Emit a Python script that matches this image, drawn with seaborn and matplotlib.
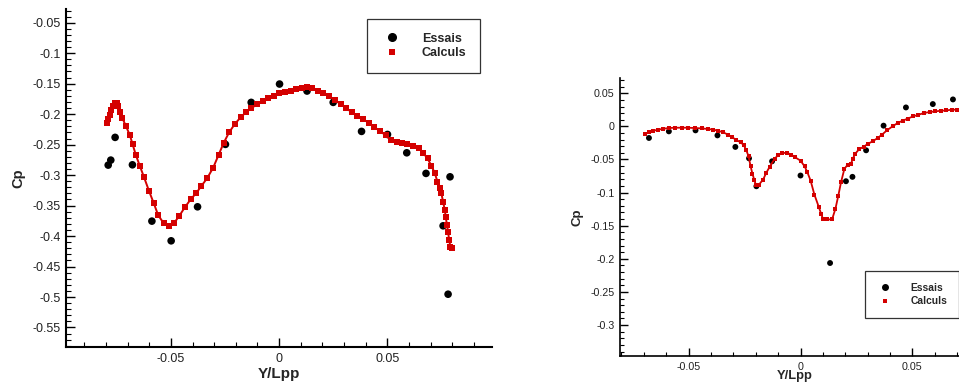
import matplotlib
matplotlib.use('Agg')
import matplotlib.pyplot as plt
import seaborn as sns
from matplotlib.lines import Line2D
from matplotlib.ticker import MultipleLocator, FuncFormatter

sns.set_style('ticks')
plt.rcParams['font.family'] = ['Liberation Sans', 'DejaVu Sans']

RED = '#d40000'

# ---------------- Left chart data ----------------
left_essais_x = [-0.0790, -0.0778, -0.0758, -0.0678, -0.0588, -0.0499, -0.0377, -0.0248,
                 -0.0129, 0.0002, 0.0129, 0.0250, 0.0381, 0.0501, 0.0590, 0.0679,
                 0.0758, 0.0781, 0.0790]
left_essais_cp = [-0.2836, -0.2754, -0.2381, -0.2831, -0.3755, -0.4078, -0.3520, -0.2496,
                  -0.1807, -0.1506, -0.1621, -0.1807, -0.2283, -0.2333, -0.2634, -0.2972,
                  -0.3832, -0.4954, -0.3028]

left_calc_x = [-0.0795, -0.0790, -0.0782, -0.0775, -0.0767, -0.0759, -0.0751, -0.0744,
               -0.0736, -0.0724, -0.0708, -0.0690, -0.0677, -0.0662, -0.0644, -0.0624,
               -0.0601, -0.0579, -0.0559, -0.0533, -0.0508, -0.0487, -0.0462, -0.0436,
               -0.0409, -0.0382, -0.0360, -0.0333, -0.0305, -0.0280, -0.0256, -0.0231,
               -0.0205, -0.0178, -0.0154, -0.0128, -0.0102, -0.0074, -0.0051, -0.0024,
               0.0000, 0.0026, 0.0053, 0.0080, 0.0104, 0.0127, 0.0150, 0.0180,
               0.0203, 0.0231, 0.0257, 0.0284, 0.0311, 0.0337, 0.0362, 0.0388,
               0.0415, 0.0439, 0.0465, 0.0492, 0.0515, 0.0543, 0.0568, 0.0593,
               0.0619, 0.0646, 0.0665, 0.0686, 0.0704, 0.0720, 0.0732, 0.0743,
               0.0750, 0.0758, 0.0766, 0.0770, 0.0776, 0.0781, 0.0786, 0.0792, 0.0797]
left_calc_cp = [-0.2141, -0.2086, -0.2015, -0.1933, -0.1867, -0.1813, -0.1813, -0.1867,
                -0.1961, -0.2069, -0.2196, -0.2343, -0.2496, -0.2672, -0.2847, -0.3038,
                -0.3263, -0.3465, -0.3657, -0.3793, -0.3837, -0.3793, -0.3673, -0.3530,
                -0.3399, -0.3291, -0.3181, -0.3054, -0.2880, -0.2672, -0.2470, -0.2299,
                -0.2163, -0.2053, -0.1971, -0.1905, -0.1835, -0.1780, -0.1741, -0.1698,
                -0.1659, -0.1642, -0.1616, -0.1588, -0.1567, -0.1551, -0.1567, -0.1616,
                -0.1649, -0.1703, -0.1769, -0.1835, -0.1905, -0.1971, -0.2032, -0.2086,
                -0.2141, -0.2207, -0.2278, -0.2343, -0.2425, -0.2463, -0.2480, -0.2496,
                -0.2519, -0.2562, -0.2634, -0.2726, -0.2847, -0.2972, -0.3110, -0.3218,
                -0.3300, -0.3438, -0.3575, -0.3685, -0.3821, -0.3931, -0.4067, -0.4177, -0.4203]

# ---------------- Right chart data ----------------
right_essais_x = [-0.0677, -0.0588, -0.0469, -0.0371, -0.0291, -0.0230, -0.0197, -0.0127,
                  0.0000, 0.0132, 0.0203, 0.0232, 0.0293, 0.0371, 0.0471, 0.0591, 0.0681]
right_essais_cp = [-0.0175, -0.0075, -0.0060, -0.0136, -0.0310, -0.0482, -0.0904, -0.0527,
                   -0.0742, -0.2063, -0.0828, -0.0762, -0.0361, 0.0011, 0.0286, 0.0337, 0.0407]

right_calc_x = [-0.0695, -0.0677, -0.0657, -0.0635, -0.0613, -0.0588, -0.0561, -0.0531,
                -0.0501, -0.0472, -0.0442, -0.0412, -0.0390, -0.0368, -0.0346, -0.0323,
                -0.0305, -0.0286, -0.0268, -0.0254, -0.0242, -0.0232, -0.0223, -0.0215,
                -0.0206, -0.0200, -0.0187, -0.0167, -0.0153, -0.0138, -0.0116, -0.0101,
                -0.0081, -0.0059, -0.0041, -0.0024, 0.0000, 0.0018, 0.0030, 0.0045,
                0.0062, 0.0082, 0.0092, 0.0100, 0.0119, 0.0141, 0.0156, 0.0169,
                0.0181, 0.0196, 0.0211, 0.0226, 0.0233, 0.0245, 0.0263, 0.0282,
                0.0300, 0.0322, 0.0345, 0.0364, 0.0386, 0.0411, 0.0434, 0.0456,
                0.0478, 0.0503, 0.0527, 0.0552, 0.0577, 0.0601, 0.0626, 0.0652,
                0.0675, 0.0701]
right_calc_cp = [-0.0110, -0.0090, -0.0065, -0.0050, -0.0035, -0.0025, -0.0020, -0.0020,
                 -0.0020, -0.0025, -0.0030, -0.0040, -0.0050, -0.0065, -0.0090, -0.0125,
                 -0.0166, -0.0205, -0.0241, -0.0280, -0.0361, -0.0452, -0.0602, -0.0712,
                 -0.0813, -0.0878, -0.0885, -0.0803, -0.0702, -0.0611, -0.0491, -0.0437,
                 -0.0401, -0.0401, -0.0426, -0.0467, -0.0517, -0.0602, -0.0687, -0.0818,
                 -0.1029, -0.1220, -0.1319, -0.1395, -0.1405, -0.1405, -0.1244, -0.1044,
                 -0.0843, -0.0642, -0.0577, -0.0562, -0.0491, -0.0411, -0.0340, -0.0310,
                 -0.0265, -0.0226, -0.0175, -0.0125, -0.0060, 0.0000, 0.0051, 0.0086,
                 0.0116, 0.0151, 0.0176, 0.0202, 0.0217, 0.0226, 0.0236, 0.0241,
                 0.0252, 0.0252]

legend_labels = ['Essais', 'Calculs']
x_label = 'Y/Lpp'
y_label = 'Cp'


def fmt(v, pos):
    v = round(v, 4)
    if abs(v) < 1e-9:
        return '0'
    return f'{v:g}'


def style_axis(ax, tick_fs, spine_lw, major_len, minor_len):
    sns.despine(ax=ax)
    for s in ('left', 'bottom'):
        ax.spines[s].set_linewidth(spine_lw)
        ax.spines[s].set_color('black')
    ax.xaxis.set_major_locator(MultipleLocator(0.05))
    ax.xaxis.set_minor_locator(MultipleLocator(0.01))
    ax.yaxis.set_major_locator(MultipleLocator(0.05))
    ax.yaxis.set_minor_locator(MultipleLocator(0.01))
    ax.xaxis.set_major_formatter(FuncFormatter(fmt))
    ax.yaxis.set_major_formatter(FuncFormatter(fmt))
    ax.tick_params(which='major', direction='in', length=major_len, width=1.0,
                   labelsize=tick_fs, color='black', labelcolor='#222222', pad=4)
    ax.tick_params(which='minor', direction='in', length=minor_len, width=0.8, color='black')
    ax.grid(False)
    ax.set_facecolor('white')


fig = plt.figure(figsize=(9.59, 3.85), dpi=100)
fig.patch.set_facecolor('white')

# ---------------- Left axes ----------------
axL = fig.add_axes([66 / 959, 1 - 347 / 385, (492 - 66) / 959, (347 - 9) / 385])
sns.scatterplot(x=left_essais_x, y=left_essais_cp, ax=axL, color='black', marker='o',
                s=30, edgecolor='none', legend=False, zorder=2)
sns.lineplot(x=left_calc_x, y=left_calc_cp, ax=axL, color=RED, lw=1.4, marker='s',
             markersize=4.4, markeredgewidth=0, markerfacecolor=RED, sort=False,
             estimator=None, legend=False, zorder=3)
axL.set_xlim(-0.0985, 0.0984)
axL.set_ylim(-0.582, -0.0275)
style_axis(axL, 9, 1.5, 6.5, 3.5)
axL.set_xlabel(x_label, fontsize=11, fontweight='bold', labelpad=2)
axL.set_ylabel(y_label, fontsize=10.5, fontweight='bold', labelpad=5)

handlesL = [Line2D([], [], ls='', marker='o', color='black', markersize=5.5),
            Line2D([], [], ls='', marker='s', color=RED, markersize=4.4, markeredgewidth=0)]
legL = fig.legend(handlesL, legend_labels, loc='upper left',
                  bbox_to_anchor=(366.7 / 959, 1 - 19 / 385), bbox_transform=fig.transFigure,
                  prop={'size': 9, 'weight': 'bold'}, frameon=True, fancybox=False,
                  borderpad=1.1, handlelength=1.8, handletextpad=1.5, labelspacing=0.2,
                  borderaxespad=0)
legL.get_frame().set_edgecolor('black')
legL.get_frame().set_linewidth(0.9)

# ---------------- Right axes ----------------
axR = fig.add_axes([620.3 / 959, 1 - 356 / 385, (959 - 620.3) / 959, (356 - 78.3) / 385])
sns.scatterplot(x=right_essais_x, y=right_essais_cp, ax=axR, color='black', marker='o',
                s=18, edgecolor='none', legend=False, zorder=2)
sns.lineplot(x=right_calc_x, y=right_calc_cp, ax=axR, color=RED, lw=1.3, marker='s',
             markersize=3.3, markeredgewidth=0, markerfacecolor=RED, sort=False,
             estimator=None, legend=False, zorder=3)
axR.set_xlim(-0.0805, 0.0708)
axR.set_ylim(-0.3467, 0.0726)
style_axis(axR, 7.7, 1.2, 5.5, 3.0)
axR.set_xlabel(x_label, fontsize=9.3, fontweight='bold', labelpad=2)
axR.xaxis.set_label_coords(0.516, -0.05)
axR.set_ylabel(y_label, fontsize=9.5, fontweight='bold', labelpad=5)

handlesR = [Line2D([], [], ls='', marker='o', color='black', markersize=4.0),
            Line2D([], [], ls='', marker='s', color=RED, markersize=3.3, markeredgewidth=0)]
legR = fig.legend(handlesR, legend_labels, loc='upper left',
                  bbox_to_anchor=(865 / 959, 1 - 270.7 / 385), bbox_transform=fig.transFigure,
                  prop={'size': 7.4, 'weight': 'bold'}, frameon=True, fancybox=False,
                  borderpad=1.2, handlelength=1.5, handletextpad=1.7, labelspacing=0.3,
                  borderaxespad=0)
legR.get_frame().set_edgecolor('black')
legR.get_frame().set_linewidth(0.9)

fig.savefig('out.png', dpi=100, facecolor='white')
